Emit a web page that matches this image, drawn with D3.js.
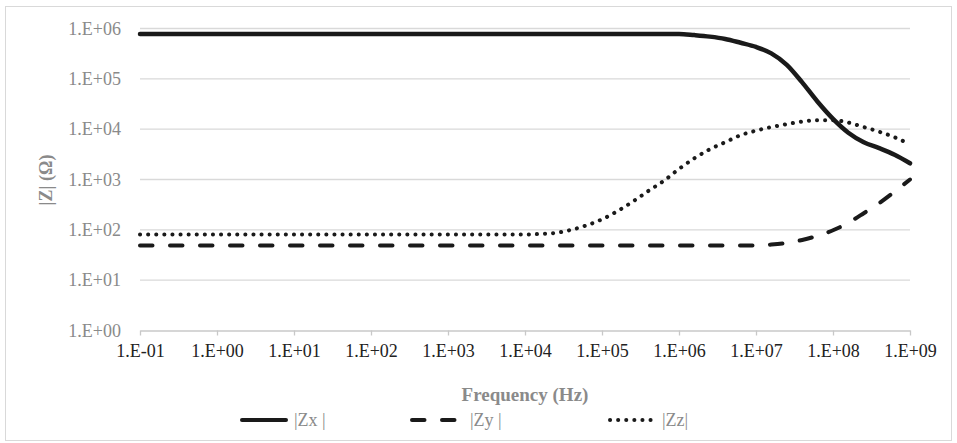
<!DOCTYPE html>
<html>
<head>
<meta charset="utf-8">
<script src="https://cdnjs.cloudflare.com/ajax/libs/d3/7.8.5/d3.min.js"></script>
<style>
  body { margin: 0; background: #fff; }
  svg { display: block; }
</style>
</head>
<body>
<svg id="chart" width="957" height="443"></svg>
<script>

// frequency points (Hz)
var freq = [1e-1, 1e0, 1e1, 1e2, 1e3, 1e4,
  1.58e4, 2.51e4, 3.98e4, 6.31e4, 1e5,
  1.58e5, 2.51e5, 3.98e5, 6.31e5, 1e6,
  1.58e6, 2.51e6, 3.98e6, 6.31e6, 1e7,
  1.58e7, 2.51e7, 3.98e7, 6.31e7, 1e8,
  1.58e8, 2.51e8, 3.98e8, 6.31e8, 1e9];

// |Zx| (ohm)
var zx = [7.8e5, 7.8e5, 7.8e5, 7.8e5, 7.8e5, 7.8e5,
  7.8e5, 7.8e5, 7.8e5, 7.8e5, 7.8e5,
  7.8e5, 7.8e5, 7.8e5, 7.8e5, 7.8e5,
  7.4e5, 6.9e5, 6.2e5, 5.2e5, 4.3e5,
  3.2e5, 1.9e5, 8.5e4, 3.5e4, 1.6e4,
  8.5e3, 5.5e3, 4.2e3, 3.1e3, 2.1e3];

// |Zy| (ohm)
var zy = [49, 49, 49, 49, 49, 49,
  49, 49, 49, 49, 49,
  49, 49, 49, 49, 49,
  49, 49, 49, 49, 49,
  51, 55, 63, 76, 98,
  138, 214, 339, 575, 1000];

// |Zz| (ohm)
var zz = [81, 81, 81, 81, 81, 81,
  83, 87, 100, 123, 162,
  234, 363, 589, 933, 1620,
  2630, 3980, 5500, 7590, 9330,
  11000, 12600, 14100, 15100, 15100,
  13500, 11000, 8900, 6900, 5000];

var xTicks = [1e-1, 1e0, 1e1, 1e2, 1e3, 1e4, 1e5, 1e6, 1e7, 1e8, 1e9];
var xTickLabels = ["1.E-01", "1.E+00", "1.E+01", "1.E+02", "1.E+03", "1.E+04",
  "1.E+05", "1.E+06", "1.E+07", "1.E+08", "1.E+09"];
var yTicks = [1e0, 1e1, 1e2, 1e3, 1e4, 1e5, 1e6];
var yTickLabels = ["1.E+00", "1.E+01", "1.E+02", "1.E+03", "1.E+04", "1.E+05", "1.E+06"];

var seriesNames = ["|Zx |", "|Zy |", "|Zz|"];

var font = "'Liberation Serif', 'Times New Roman', serif";

var svg = d3.select("#chart");

// outer frame
svg.append("rect")
  .attr("x", 5.5).attr("y", 6.5)
  .attr("width", 946).attr("height", 434)
  .attr("fill", "none")
  .attr("stroke", "#d9d9d9")
  .attr("stroke-width", 1);

var x = d3.scaleLog().domain([1e-1, 1e9]).range([140, 910]);
var y = d3.scaleLog().domain([1, 1e6]).range([330.5, 28.5]);

// horizontal grid
svg.append("g")
  .selectAll("line")
  .data(yTicks.slice(1))
  .join("line")
  .attr("x1", 140).attr("x2", 910)
  .attr("y1", function(d) { return y(d); })
  .attr("y2", function(d) { return y(d); })
  .attr("stroke", "#d9d9d9")
  .attr("stroke-width", 1.3);

// y labels
svg.append("g")
  .selectAll("text")
  .data(yTicks)
  .join("text")
  .attr("x", 121)
  .attr("y", function(d) { return y(d); })
  .attr("dy", "0.35em")
  .attr("text-anchor", "end")
  .attr("font-family", font)
  .attr("font-size", 18)
  .attr("fill", "#8a8a8a")
  .text(function(d, i) { return yTickLabels[i]; });

// x axis
var xAxis = d3.axisBottom(x)
  .tickValues(xTicks)
  .tickSizeInner(5)
  .tickSizeOuter(0)
  .tickPadding(9)
  .tickFormat(function(d, i) { return xTickLabels[i]; });

var gx = svg.append("g")
  .attr("transform", "translate(0,330.5)")
  .call(xAxis);
gx.select(".domain").attr("stroke", "#c8c8c8").attr("stroke-width", 1.3);
gx.selectAll(".tick line").attr("stroke", "#c8c8c8").attr("stroke-width", 1.3);
gx.selectAll(".tick text")
  .attr("font-family", font)
  .attr("font-size", 18)
  .attr("fill", "#222");

// axis titles
svg.append("text")
  .attr("x", 525).attr("y", 394)
  .attr("dy", "0.35em")
  .attr("text-anchor", "middle")
  .attr("font-family", font)
  .attr("font-size", 19)
  .attr("font-weight", "bold")
  .attr("fill", "#8a8a8a")
  .text("Frequency (Hz)");

svg.append("text")
  .attr("transform", "translate(46,180) rotate(-90)")
  .attr("dy", "0.35em")
  .attr("text-anchor", "middle")
  .attr("font-family", font)
  .attr("font-size", 18)
  .attr("font-weight", "bold")
  .attr("fill", "#8a8a8a")
  .text("|Z|  (Ω)");

// lines
var line = d3.line()
  .x(function(d) { return x(d[0]); })
  .y(function(d) { return y(d[1]); })
  .curve(d3.curveMonotoneX);

var styles = [
  { dash: null, cap: "round" },
  { dash: "12.5,17.5", cap: "round" },
  { dash: "0.1,8", cap: "round" }
];
var allZ = [zx, zy, zz];

allZ.forEach(function(vals, i) {
  var pts = freq.map(function(f, j) { return [f, vals[j]]; });
  svg.append("path")
    .datum(pts)
    .attr("d", line)
    .attr("fill", "none")
    .attr("stroke", "#1a1a1a")
    .attr("stroke-width", i == 0 ? 4.5 : 4)
    .attr("stroke-linecap", styles[i].cap)
    .attr("stroke-linejoin", "round")
    .attr("stroke-dasharray", styles[i].dash);
});

// legend
var legX = [240, 410, 608];
var legY = 420;
seriesNames.forEach(function(name, i) {
  svg.append("line")
    .attr("x1", legX[i] + 2).attr("x2", legX[i] + 46)
    .attr("y1", legY).attr("y2", legY)
    .attr("stroke", "#1a1a1a")
    .attr("stroke-width", 4)
    .attr("stroke-linecap", "round")
    .attr("stroke-dasharray", styles[i].dash);
  svg.append("text")
    .attr("x", legX[i] + 54 + (i == 1 ? 6 : 0))
    .attr("y", legY)
    .attr("dy", "0.35em")
    .attr("font-family", font)
    .attr("font-size", 18)
    .attr("fill", "#8a8a8a")
    .text(name);
});

</script>
</body>
</html>
